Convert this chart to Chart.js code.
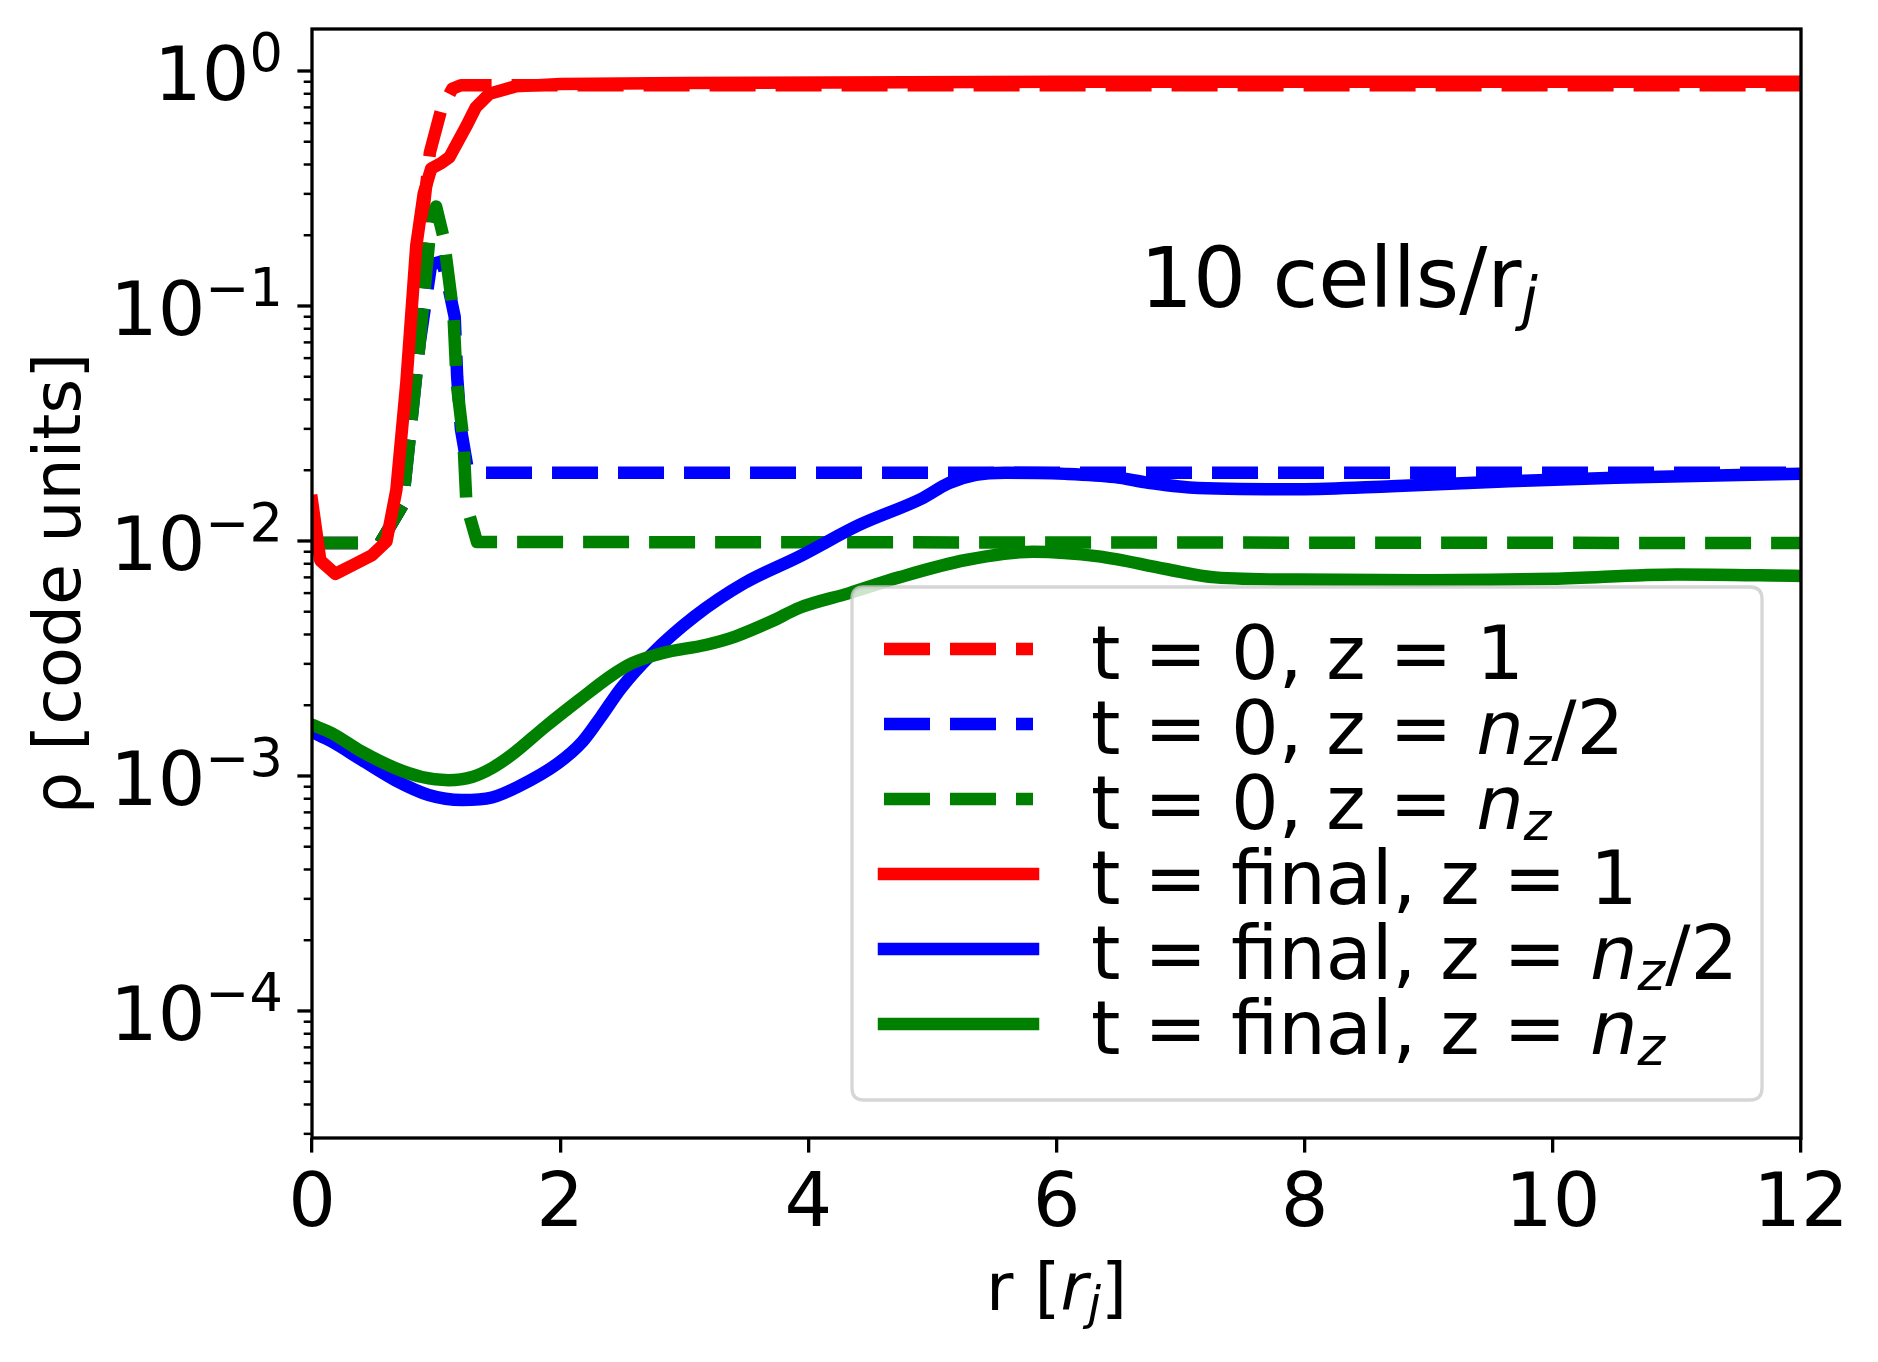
<!DOCTYPE html>
<html><head><meta charset="utf-8">
<script src="https://cdn.jsdelivr.net/npm/chart.js@4.4.1/dist/chart.umd.min.js"></script>
<style>html,body{margin:0;padding:0;background:#fff}canvas{display:block}</style>
</head><body>
<canvas id="c" width="1878" height="1362"></canvas>
<script>
// ---------------- data ----------------
const seriesLabels = ['t = 0, z = 1', 't = 0, z = $n_z$/2', 't = 0, z = $n_z$',
                      't = final, z = 1', 't = final, z = $n_z$/2', 't = final, z = $n_z$'];
const seriesColors = ['#ff0000', '#0000ff', '#008000', '#ff0000', '#0000ff', '#008000'];
const seriesDashed = [true, true, true, false, false, false];

const r_t0_z1   = [0, 0.55, 0.73, 0.82, 0.894, 0.95, 1.04, 1.13, 1.2, 12];
const rho_t0_z1 = [0.0098, 0.0098, 0.0142, 0.05, 0.245, 0.45, 0.68, 0.84, 0.87, 0.87];

const r_t0_zh   = [0, 0.55, 0.73, 0.867, 0.96, 1.05, 1.1, 1.15, 1.17, 1.2, 1.25, 1.32, 12];
const rho_t0_zh = [0.0098, 0.0098, 0.0142, 0.069, 0.15, 0.155, 0.12, 0.09, 0.05, 0.03, 0.021, 0.0195, 0.0195];

const r_t0_zn   = [0, 0.55, 0.73, 0.867, 0.947, 1.0, 1.06, 1.14, 1.166, 1.22, 1.245, 1.33, 12];
const rho_t0_zn = [0.0098, 0.0098, 0.0142, 0.069, 0.196, 0.265, 0.196, 0.092, 0.047, 0.027, 0.0142, 0.0099, 0.0098];

const r_tf_z1   = [0, 0.067, 0.188, 0.33, 0.483, 0.6, 0.68, 0.76, 0.84, 0.9, 0.961, 1.04, 1.108, 1.242, 1.32, 1.43, 1.64, 2, 3, 6, 12];
const rho_tf_z1 = [0.0148, 0.00826, 0.00724, 0.0079, 0.0087, 0.00995, 0.0165, 0.047, 0.18, 0.3, 0.385, 0.405, 0.43, 0.58, 0.70, 0.80, 0.86, 0.88, 0.89, 0.9, 0.9];

const r_tf_zh   = [0, 0.16, 0.40, 0.67, 0.94, 1.21, 1.45, 1.66, 1.98, 2.18, 2.33, 2.49, 2.73, 3.08, 3.48, 3.93, 4.41, 4.92, 5.13, 5.35, 5.59, 6.07, 6.47, 6.74, 7.14, 7.95, 8.7, 9.6, 10.5, 12];
const rho_tf_zh = [0.00154, 0.0014, 0.00117, 0.00096, 0.00083, 0.00079, 0.00081, 0.0009, 0.00113, 0.0014, 0.00179, 0.00236, 0.00327, 0.00476, 0.0066, 0.0086, 0.0117, 0.0152, 0.0176, 0.0191, 0.0195, 0.0193, 0.0187, 0.0177, 0.0168, 0.0166, 0.0171, 0.0179, 0.0186, 0.0193];

const r_tf_zn   = [0, 0.16, 0.40, 0.67, 0.886, 1.10, 1.29, 1.45, 1.61, 1.88, 2.15, 2.42, 2.58, 2.82, 3.17, 3.41, 3.70, 3.93, 4.33, 4.73, 5.27, 5.81, 6.34, 6.88, 7.28, 7.95, 9, 10, 11, 12];
const rho_tf_zn = [0.00165, 0.00152, 0.00127, 0.00108, 0.00099, 0.00096, 0.00099, 0.00108, 0.00123, 0.00162, 0.0021, 0.00269, 0.00302, 0.00333, 0.00361, 0.00392, 0.00454, 0.0052, 0.006, 0.007, 0.0083, 0.009, 0.0086, 0.0076, 0.007, 0.00685, 0.0068, 0.0069, 0.0072, 0.0071];

const seriesR   = [r_t0_z1, r_t0_zh, r_t0_zn, r_tf_z1, r_tf_zh, r_tf_zn];
const seriesRho = [rho_t0_z1, rho_t0_zh, rho_t0_zn, rho_tf_z1, rho_tf_zh, rho_tf_zn];

const xTicks = [0, 2, 4, 6, 8, 10, 12];
const xTickLabels = ['0', '2', '4', '6', '8', '10', '12'];
const yMajorTicks = [1e-4, 1e-3, 1e-2, 1e-1, 1];
const yTickExponents = ['\u22124', '\u22123', '\u22122', '\u22121', '0'];
const xMin = 0, xMax = 12, yMin = 2.88e-5, yMax = 1.509;
const xLabel = 'r [$r_j$]';
const yLabel = '\u03c1 [code units]';
const annotationText = '10 cells/r$_j$';

// ---------------- helpers ----------------
const FAM = '"DejaVu Sans"';
function parseRich(s) {
  const runs = []; let math = false;
  for (let i = 0; i < s.length; i++) {
    const ch = s[i];
    if (ch === '$') { math = !math; continue; }
    if (math && ch === '_') { const c = s[++i]; runs.push({t: c, it: /[a-zA-Z]/.test(c), sub: true}); continue; }
    const it = math && /[a-zA-Z]/.test(ch);
    const last = runs[runs.length - 1];
    if (last && !last.sub && last.it === it) last.t += ch; else runs.push({t: ch, it: it, sub: false});
  }
  return runs;
}
function drawRich(ctx, s, x, y, size, align) {
  const runs = parseRich(s);
  const fontOf = r => (r.it ? 'italic ' : '') + (r.sub ? size * 0.7 : size) + 'px ' + FAM;
  let w = 0;
  runs.forEach(r => { ctx.font = fontOf(r); r.w = ctx.measureText(r.t).width; w += r.w; });
  let cx = align === 'center' ? x - w / 2 : align === 'right' ? x - w : x;
  ctx.textAlign = 'left'; ctx.textBaseline = 'alphabetic';
  runs.forEach(r => { ctx.font = fontOf(r); ctx.fillText(r.t, cx, y + (r.sub ? size * 0.14 : 0)); cx += r.w; });
}

const decor = {
  id: 'decor',
  afterDatasetsDraw(chart) {
    const ctx = chart.ctx, a = chart.chartArea;
    const ys = chart.scales.y, xs = chart.scales.x;
    ctx.save();
    ctx.fillStyle = '#000'; ctx.strokeStyle = '#000';
    // y ticks (major + minor)
    ys.ticks.forEach(t => {
      const p = ys.getPixelForValue(t.value);
      const major = Math.abs(Math.log10(t.value) - Math.round(Math.log10(t.value))) < 1e-9;
      ctx.lineWidth = major ? 3.3 : 2.5;
      ctx.beginPath(); ctx.moveTo(a.left - (major ? 14.6 : 8.3), p); ctx.lineTo(a.left, p); ctx.stroke();
    });
    // y tick labels 10^n
    yMajorTicks.forEach((v, i) => {
      const p = ys.getPixelForValue(v);
      const right = a.left - 14.6 - 14.6;
      ctx.font = '52.5px ' + FAM; ctx.textAlign = 'right'; ctx.textBaseline = 'alphabetic';
      const ew = ctx.measureText(yTickExponents[i]).width;
      ctx.fillText(yTickExponents[i], right, p);
      ctx.font = '75px ' + FAM;
      ctx.fillText('10', right - ew, p + 29);
    });
    // x tick labels
    ctx.font = '75px ' + FAM; ctx.textAlign = 'center'; ctx.textBaseline = 'alphabetic';
    xTicks.forEach((v, i) => ctx.fillText(xTickLabels[i], xs.getPixelForValue(v), 1226));
    // frame
    ctx.lineWidth = 3.3;
    ctx.strokeRect(a.left, a.top, a.right - a.left, a.bottom - a.top);
    // axis labels
    drawRich(ctx, xLabel, (a.left + a.right) / 2, 1310, 66.7, 'center');
    ctx.save();
    ctx.translate(80, (a.top + a.bottom) / 2); ctx.rotate(-Math.PI / 2);
    drawRich(ctx, yLabel, 0, 0, 66.7, 'center');
    ctx.restore();
    // annotation
    drawRich(ctx, annotationText, 1140, 307, 83.3, 'left');
    // legend
    const L = 852, R = 1762, T = 587, B = 1100, rad = 12;
    ctx.beginPath();
    ctx.moveTo(L + rad, T); ctx.lineTo(R - rad, T); ctx.quadraticCurveTo(R, T, R, T + rad);
    ctx.lineTo(R, B - rad); ctx.quadraticCurveTo(R, B, R - rad, B);
    ctx.lineTo(L + rad, B); ctx.quadraticCurveTo(L, B, L, B - rad);
    ctx.lineTo(L, T + rad); ctx.quadraticCurveTo(L, T, L + rad, T); ctx.closePath();
    ctx.fillStyle = 'rgba(255,255,255,0.8)'; ctx.fill();
    ctx.lineWidth = 3.3; ctx.strokeStyle = 'rgba(204,204,204,0.8)'; ctx.stroke();
    chart.data.datasets.forEach((ds, i) => {
      const base = 679 + i * 75;
      const hy = base - 30;
      ctx.strokeStyle = ds.borderColor; ctx.lineWidth = ds.borderWidth;
      ctx.setLineDash(ds.borderDash || []);
      ctx.lineCap = (ds.borderDash && ds.borderDash.length) ? 'butt' : 'square';
      ctx.beginPath(); ctx.moveTo(884, hy); ctx.lineTo(1033, hy); ctx.stroke();
      ctx.setLineDash([]);
      ctx.fillStyle = '#000';
      drawRich(ctx, seriesLabels[i], 1091, base, 75, 'left');
    });
    ctx.restore();
  }
};

const datasets = seriesR.map((rs, i) => ({
  label: seriesLabels[i].replace(/\$/g, '').replace('_', ''),
  data: rs.map((r, k) => ({x: r, y: seriesRho[i][k]})),
  borderColor: seriesColors[i],
  borderWidth: 12.5,
  borderDash: seriesDashed[i] ? [46, 20] : [],
  borderCapStyle: seriesDashed[i] ? 'butt' : 'square',
  borderJoinStyle: 'round',
  pointRadius: 0,
  tension: 0,
  cubicInterpolationMode: (!seriesDashed[i] && i !== 3) ? 'monotone' : 'default',
  fill: false,
  clip: 0,
  order: seriesR.length - i
}));

new Chart(document.getElementById('c'), {
  type: 'line',
  data: {datasets: datasets},
  options: {
    responsive: false, animation: false, devicePixelRatio: 1,
    layout: {padding: {left: 312, top: 29, right: 77, bottom: 224}},
    plugins: {legend: {display: false}, tooltip: {enabled: false}, title: {display: false}},
    scales: {
      x: {
        type: 'linear', min: xMin, max: xMax, bounds: 'data',
        afterFit: s => { s.height = 0; },
        afterBuildTicks: s => { s.ticks = xTicks.map(v => ({value: v})); },
        grid: {display: true, drawOnChartArea: false, drawTicks: true, tickLength: 14.6, tickWidth: 3.3, lineWidth: 3.3, tickColor: '#000', color: '#000'},
        border: {display: false},
        ticks: {display: false}
      },
      y: {
        type: 'logarithmic', min: yMin, max: yMax, bounds: 'data',
        afterFit: s => { s.width = 0; },
        afterBuildTicks: s => {
          const t = [];
          for (let e = -5; e <= 0; e++) for (let m = 1; m <= 9; m++) {
            const v = m * Math.pow(10, e);
            if (v >= yMin && v <= yMax) t.push({value: v, major: m === 1});
          }
          s.ticks = t;
        },
        grid: {display: false},
        border: {display: false},
        ticks: {display: false}
      }
    }
  },
  plugins: [decor]
});
</script>
</body></html>
